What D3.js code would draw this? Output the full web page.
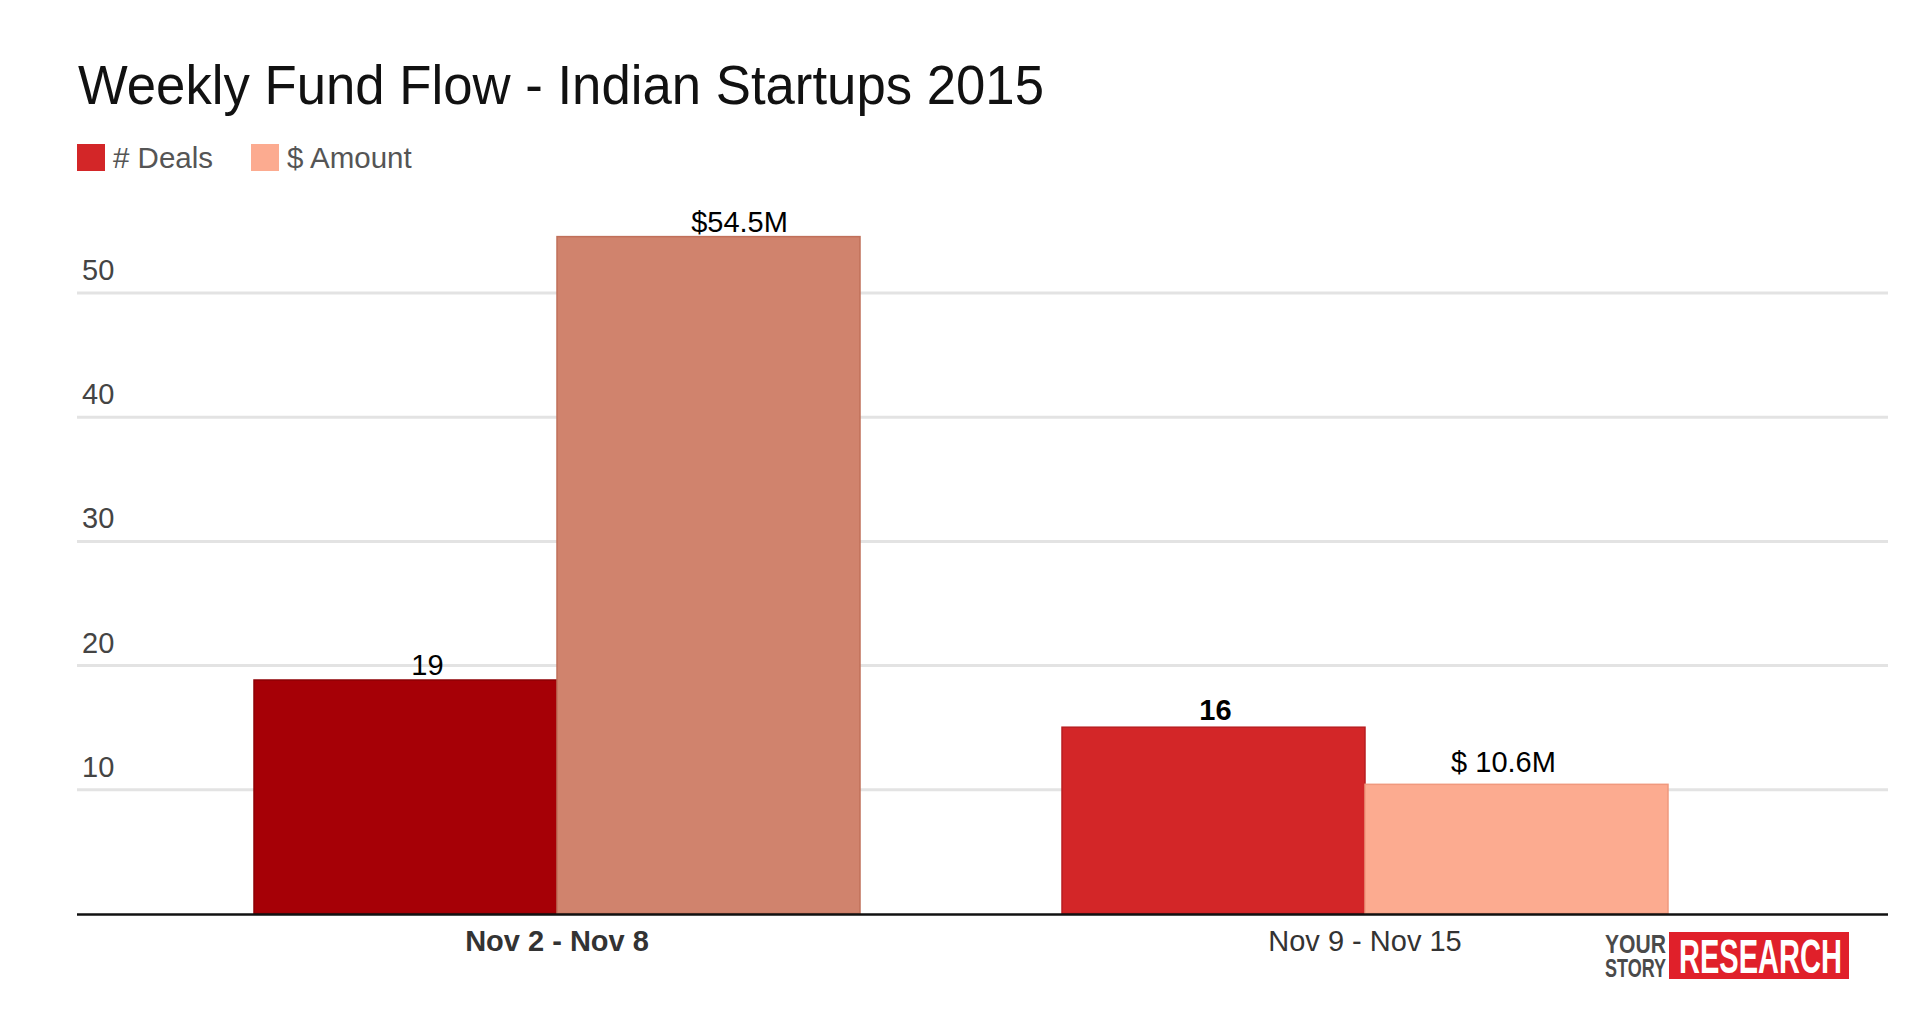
<!DOCTYPE html>
<html>
<head>
<meta charset="utf-8">
<script src="https://cdn.jsdelivr.net/npm/d3@7"></script>
<style>
  html, body { margin: 0; padding: 0; background: #ffffff; }
  svg { display: block; }
  text { font-family: "Liberation Sans", Arial, Helvetica, sans-serif; }
</style>
</head>
<body>
<svg id="chart" width="1920" height="1012"></svg>
<script>
// ---- data ----
const titleText = "Weekly Fund Flow - Indian Startups 2015";
const weeks = ["Nov 2 - Nov 8", "Nov 9 - Nov 15"];
const seriesNames = ["# Deals", "$ Amount"];
const deals = [18.8, 15.0];
const amounts = [54.5, 10.4];
const dealLabels = ["19", "16"];
const amountLabels = ["$54.5M", "$ 10.6M"];
const yTicks = [10, 20, 30, 40, 50];

// ---- layout ----
const svg = d3.select("#chart");
const gridLeft = 77, gridRight = 1888;
const y0px = 913.5, yTopPx = 168.3;

const x0 = d3.scaleBand().domain(weeks).range([153, 1769]).paddingInner(0.25).paddingOuter(0.125);
const x1 = d3.scaleBand().domain(seriesNames).range([0, x0.bandwidth()]).padding(0);
const y = d3.scaleLinear().domain([0, 60]).range([y0px, yTopPx]);

const seriesColor = { "# Deals": "#d32628", "$ Amount": "#fcab90" };
// first week bars were recoloured darker in the original
const barFill = [["#a60006", "#d0836d"], ["#d32628", "#fcab90"]];
const barStroke = [["#8e0005", "#c0705a"], ["#b81e20", "#f0997e"]];

// title
svg.append("text")
  .attr("x", 78).attr("y", 104)
  .attr("font-size", 55)
  .attr("fill", "#111")
  .attr("textLength", 966).attr("lengthAdjust", "spacingAndGlyphs")
  .text(titleText);

// legend
const legX = [77, 251];
const leg = svg.append("g").selectAll("g").data(seriesNames).join("g")
  .attr("transform", (d, i) => `translate(${legX[i]},144)`);
leg.append("rect").attr("width", 28).attr("height", 27)
  .attr("fill", d => seriesColor[d]);
leg.append("text").attr("x", 36).attr("y", 24)
  .attr("font-size", 29.5).attr("fill", "#555")
  .text(d => d);

// y axis / gridlines
const yAxis = d3.axisRight(y).tickValues(yTicks).tickSize(gridRight - gridLeft).tickFormat(d3.format("d"));
const gy = svg.append("g").attr("transform", `translate(${gridLeft},0)`).call(yAxis);
gy.select(".domain").remove();
gy.selectAll(".tick line").attr("stroke", "#e3e3e3").attr("stroke-width", 3);
gy.selectAll(".tick text")
  .attr("x", 5).attr("dy", -13).attr("text-anchor", "start")
  .attr("font-size", 29).attr("fill", "#444")
  .attr("font-family", "Liberation Sans, Arial, sans-serif");

// bars
const groups = svg.append("g").selectAll("g").data(weeks).join("g")
  .attr("transform", d => `translate(${x0(d)},0)`);

groups.each(function(week, wi) {
  const g = d3.select(this);
  const vals = [deals[wi], amounts[wi]];
  g.selectAll("rect").data(seriesNames).join("rect")
    .attr("x", s => x1(s))
    .attr("width", x1.bandwidth())
    .attr("y", (s, si) => y(vals[si]))
    .attr("height", (s, si) => y(0) - y(vals[si]))
    .attr("fill", (s, si) => barFill[wi][si])
    .attr("stroke", (s, si) => barStroke[wi][si])
    .attr("stroke-width", 1.5);
});

// value labels
const labelDx = [[22, 31], [2, -13]];
const labelDy = [[-5, -5], [-7, -12]];
groups.each(function(week, wi) {
  const g = d3.select(this);
  const vals = [deals[wi], amounts[wi]];
  const labs = [dealLabels[wi], amountLabels[wi]];
  seriesNames.forEach((s, si) => {
    g.append("text")
      .attr("x", x1(s) + x1.bandwidth() / 2 + labelDx[wi][si])
      .attr("y", y(vals[si]) + labelDy[wi][si])
      .attr("text-anchor", "middle")
      .attr("font-size", 29)
      .attr("font-weight", (wi === 1 && si === 0) ? "bold" : "normal")
      .attr("fill", "#000")
      .text(labs[si]);
  });
});

// baseline
svg.append("line")
  .attr("x1", gridLeft).attr("x2", gridRight)
  .attr("y1", y(0) + 1).attr("y2", y(0) + 1)
  .attr("stroke", "#111").attr("stroke-width", 2.5);

// x axis labels
const xAxis = d3.axisBottom(x0).tickSize(0).tickPadding(17);
const gx = svg.append("g").attr("transform", `translate(0,${y0px})`).call(xAxis);
gx.select(".domain").remove();
gx.selectAll(".tick text")
  .attr("font-size", 29).attr("fill", "#333")
  .attr("font-family", "Liberation Sans, Arial, sans-serif")
  .attr("font-weight", (d, i) => i === 0 ? "bold" : "normal");

// logo: condensed lettering squeezed horizontally to the logo's width
function squeezedText(parent, str, x, yb, size, fill, targetW) {
  const t = parent.append("text")
    .attr("font-family", "DejaVu Sans Condensed, DejaVu Sans, sans-serif")
    .attr("font-weight", "bold").attr("font-size", size).attr("fill", fill)
    .text(str);
  const natural = t.node().getComputedTextLength() || targetW;
  t.attr("transform", `translate(${x},${yb}) scale(${targetW / natural},1)`);
  return t;
}
const logo = svg.append("g");
squeezedText(logo, "YOUR", 1605, 953, 26, "#4a4a4a", 61);
squeezedText(logo, "STORY", 1605, 976.5, 26, "#4a4a4a", 61);
logo.append("rect").attr("x", 1669).attr("y", 932).attr("width", 180).attr("height", 47)
  .attr("fill", "#e0202a");
squeezedText(logo, "RESEARCH", 1679, 973, 48, "#ffffff", 163);
</script>
</body>
</html>
